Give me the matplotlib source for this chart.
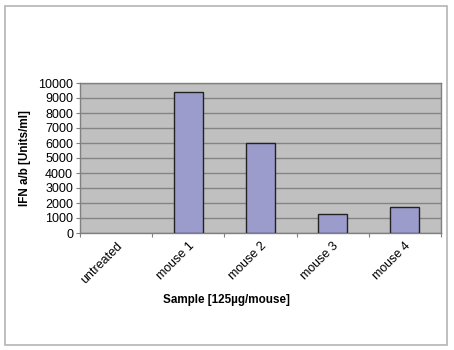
import matplotlib
matplotlib.use("Agg")
import matplotlib.pyplot as plt
from matplotlib.patches import Rectangle
import numpy as np

plt.rcParams['font.family'] = ['Liberation Sans', 'DejaVu Sans']

categories = ["untreated", "mouse 1", "mouse 2", "mouse 3", "mouse 4"]
values = [0, 9400, 6000, 1250, 1720]
yticks = list(range(0, 10001, 1000))

fig = plt.figure(figsize=(4.54, 3.5), dpi=100)
fig.patches.append(Rectangle((5/454, 1-345/350), 442/454, 339/350, transform=fig.transFigure,
                             fill=False, edgecolor='#b4b4b4', linewidth=1.2))

ax = fig.add_axes([80/454, 1-233/350, 361/454, 150/350])
ax.set_facecolor('#c0c0c0')
x = np.arange(len(categories))
edges = ['#222222' if v > 0 else 'none' for v in values]
ax.bar(x, values, width=0.4, color='#9c9ccc', edgecolor=edges, linewidth=1.0, zorder=3)
ax.set_xlim(-0.5, len(categories) - 0.5)
ax.set_ylim(0, 10000)
ax.set_yticks(yticks)
ax.set_yticklabels([str(v) for v in yticks], fontsize=9)
ax.yaxis.grid(True, color='#848484', linewidth=1.0, zorder=1)
ax.set_axisbelow(True)
ax.tick_params(axis='y', length=3, width=0.8, color='#808080', pad=2)

ax.set_xticks(x)
ax.set_xticklabels(categories, rotation=45, ha='right', rotation_mode='anchor', fontsize=9)
ax.tick_params(axis='x', which='major', length=0, pad=5)
ax.set_xticks(np.arange(-0.5, len(categories)), minor=True)
ax.tick_params(axis='x', which='minor', length=3, width=0.8, color='#808080')

for s in ['top', 'right', 'left', 'bottom']:
    ax.spines[s].set_color('#808080')
    ax.spines[s].set_linewidth(1.0)

fig.text(226/454, 1-300/350, "Sample [125µg/mouse]", ha='center', va='center',
         fontsize=8.4, fontweight='bold')
fig.text(25/454, 1-158/350, "IFN a/b [Units/ml]", ha='center', va='center',
         rotation=90, fontsize=8.4, fontweight='bold')

fig.savefig("out.png", dpi=100)
